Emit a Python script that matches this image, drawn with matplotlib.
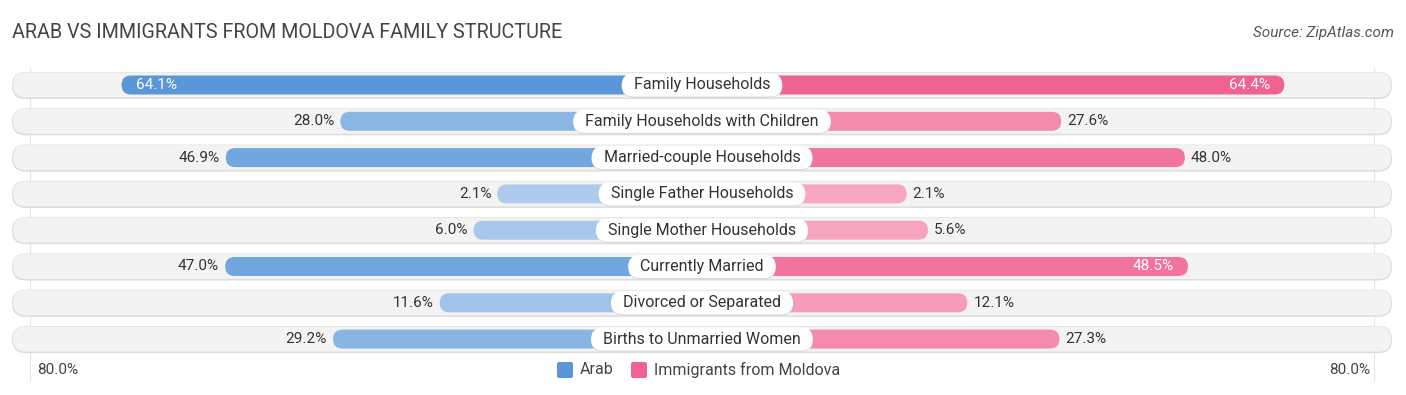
import matplotlib
matplotlib.use("Agg")
import matplotlib.pyplot as plt
from matplotlib.patches import FancyBboxPatch
from matplotlib.colors import to_rgb

# data
categories = [
    "Family Households",
    "Family Households with Children",
    "Married-couple Households",
    "Single Father Households",
    "Single Mother Households",
    "Currently Married",
    "Divorced or Separated",
    "Births to Unmarried Women",
]
arab = [64.1, 28.0, 46.9, 2.1, 6.0, 47.0, 11.6, 29.2]
moldova = [64.4, 27.6, 48.0, 2.1, 5.6, 48.5, 12.1, 27.3]
axis_max = 80.0

plt.rcParams["font.family"] = ["Roboto", "DejaVu Sans"]

# layout in pixel units
W, H = 1406, 395
CX = 702          # center line
OFF = 192         # fixed part of every bar (room for the label)
S = 6.06          # px per percent
ROW0, STEP = 85, 36.3
BAR_H = 19
BG_H = 27
LBL_H = 23

blue_dark, blue_light = "#5b97d8", "#afcdee"
pink_dark, pink_light = "#f0628f", "#f7aac2"


def mix(c1, c2, t):
    a, b = to_rgb(c1), to_rgb(c2)
    return tuple(b[i] + (a[i] - b[i]) * t for i in range(3))


def pill(ax, x0, x1, yc, h, **kw):
    p = FancyBboxPatch((x0, yc - h / 2), x1 - x0, h,
                       boxstyle=f"round,pad=0,rounding_size={h / 2}", **kw)
    ax.add_patch(p)


fig = plt.figure(figsize=(W / 100, H / 100), dpi=100)
ax = fig.add_axes([0, 0, 1, 1])
ax.set_xlim(0, W)
ax.set_ylim(H, 0)
ax.axis("off")
renderer = fig.canvas.get_renderer()

vmax = max(max(arab), max(moldova))

# faint gridlines at the axis max
for sgn in (-1, 1):
    gx = CX + sgn * (OFF + axis_max * S - 5)
    ax.plot([gx, gx], [68, 380], color="#e4e4e4", lw=0.8, zorder=0)

for i, cat in enumerate(categories):
    yc = ROW0 + i * STEP
    # row background
    pill(ax, 12, 1392, yc + 0.5, BG_H, facecolor="#dcdcdc", edgecolor="none", zorder=1)
    pill(ax, 13, 1391, yc, BG_H - 2, facecolor="#f3f3f3", edgecolor="none", zorder=1)

    a, m = arab[i], moldova[i]
    la = CX - (OFF + a * S)
    rm = CX + (OFF + m * S)
    pill(ax, la, CX + 20, yc, BAR_H, facecolor=mix(blue_dark, blue_light, a / vmax),
         edgecolor="none", zorder=2)
    pill(ax, CX - 20, rm, yc, BAR_H, facecolor=mix(pink_dark, pink_light, m / vmax),
         edgecolor="none", zorder=2)

    # value labels
    if a > 48.2:
        ax.text(la + 14, yc, f"{a:.1f}%", ha="left", va="center", fontsize=11,
                color="white", zorder=4)
    else:
        ax.text(la - 6, yc, f"{a:.1f}%", ha="right", va="center", fontsize=11,
                color="#333333", zorder=4)
    if m > 48.2:
        ax.text(rm - 14, yc, f"{m:.1f}%", ha="right", va="center", fontsize=11,
                color="white", zorder=4)
    else:
        ax.text(rm + 6, yc, f"{m:.1f}%", ha="left", va="center", fontsize=11,
                color="#333333", zorder=4)

    # center label with a white pill sized to the text
    t = ax.text(CX, yc, cat, ha="center", va="center", fontsize=11.5, color="#333333",
                zorder=6)
    tw = t.get_window_extent(renderer).width
    pill(ax, CX - tw / 2 - 12, CX + tw / 2 + 12, yc + 1, LBL_H, facecolor="#d8d8d8",
         edgecolor="none", zorder=4)
    pill(ax, CX - tw / 2 - 12, CX + tw / 2 + 12, yc, LBL_H, facecolor="white",
         edgecolor="none", zorder=5)

# title and source
ax.text(12, 33, "ARAB VS IMMIGRANTS FROM MOLDOVA FAMILY STRUCTURE", ha="left",
        va="center", fontsize=14.2, color="#444444")
ax.text(1394, 33, "Source: ZipAtlas.com", ha="right", va="center", fontsize=11,
        color="#555555", style="italic")

# axis labels
ax.text(37, 370, f"{axis_max:.1f}%", ha="left", va="center", fontsize=11, color="#444444")
ax.text(1370, 370, f"{axis_max:.1f}%", ha="right", va="center", fontsize=11, color="#444444")

# legend
for x, col, lab in [(557, blue_dark, "Arab"), (631, pink_dark, "Immigrants from Moldova")]:
    ax.add_patch(FancyBboxPatch((x, 362), 16, 16, boxstyle="round,pad=0,rounding_size=2",
                                fc=col, ec="none"))
    ax.text(x + 23, 370, lab, ha="left", va="center", fontsize=11.5, color="#444444")

fig.savefig("out.png", dpi=100)
